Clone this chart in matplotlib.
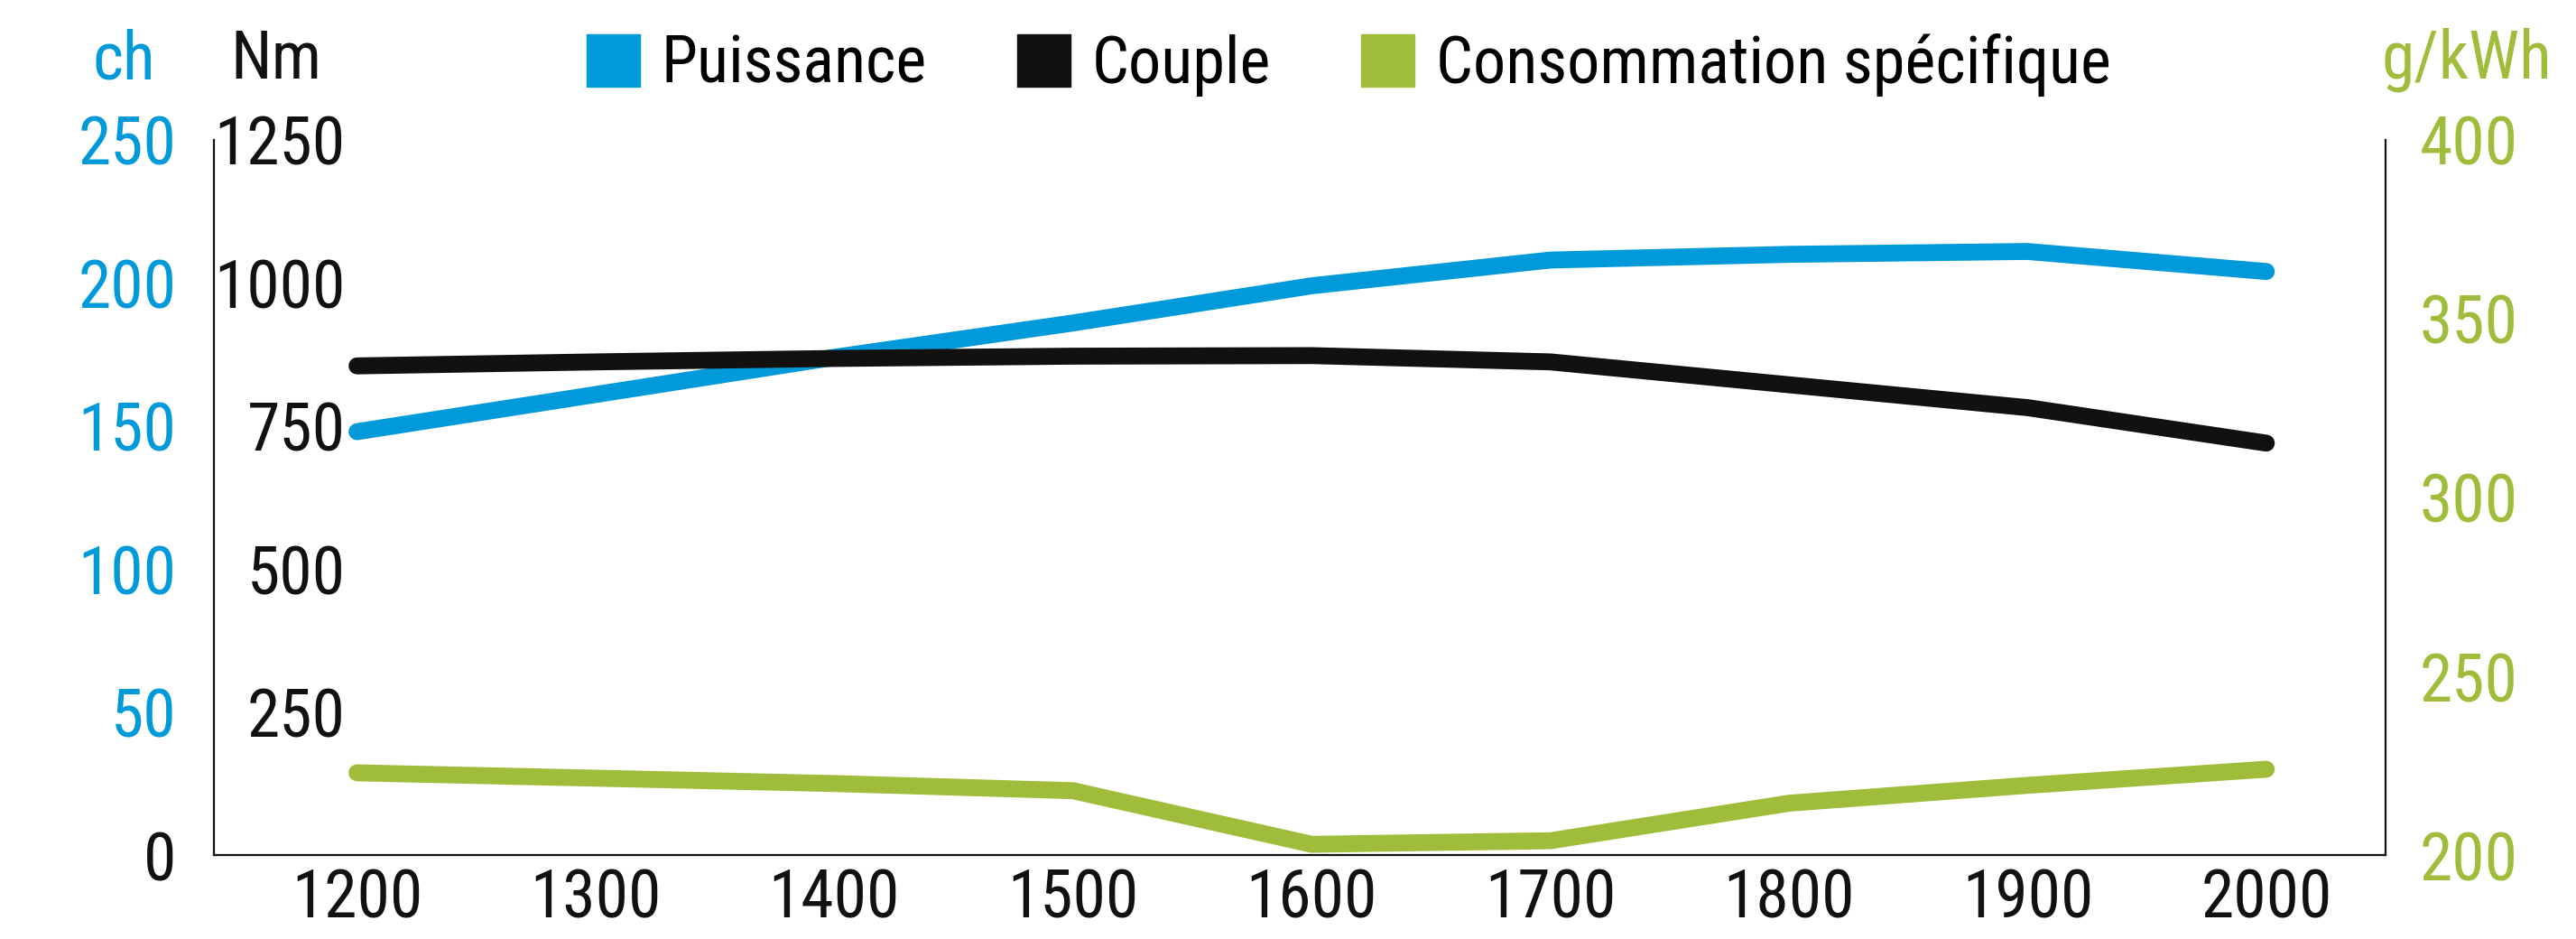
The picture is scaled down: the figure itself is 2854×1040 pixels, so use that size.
import matplotlib
matplotlib.use("Agg")
import matplotlib.pyplot as plt
from matplotlib import font_manager
from matplotlib.patches import Patch

# pick a narrow sans font (the original uses a condensed Helvetica look)
font_name = "Liberation Sans"
for cand in ["Liberation Sans Narrow", "Arial Narrow", "Roboto Condensed",
             "Archivo Narrow", "PT Sans Narrow", "Pragati Narrow"]:
    try:
        font_manager.findfont(font_manager.FontProperties(family=cand), fallback_to_default=False)
        font_name = cand
        break
    except Exception:
        pass
plt.rcParams["font.family"] = [font_name, "Liberation Sans", "DejaVu Sans"]

# --- data ---
rpm = [1200, 1300, 1400, 1500, 1600, 1700, 1800, 1900, 2000]
puissance = [148, 161, 174, 186, 199, 208, 210, 211, 204]          # ch
couple = [855, 862, 868, 872, 873, 862, 822, 782, 720]             # Nm
conso = [223, 221.5, 220, 218, 203, 204, 214.5, 219.5, 224]        # g/kWh

ch_ticks = [0, 50, 100, 150, 200, 250]
nm_ticks = [250, 500, 750, 1000, 1250]
gkwh_ticks = [200, 250, 300, 350, 400]

BLUE = "#009ADA"
BLACK = "#121110"
GREEN = "#9FBD3A"
FS = 53
LW = 13.5

fig = plt.figure(figsize=(28.54, 10.40), dpi=100)
ax = fig.add_axes([0.0830, 0.0894, 0.8431, 0.7616])   # ch (blue)
ax_nm = ax.twinx()                                    # Nm (black)
ax_g = ax.twinx()                                     # g/kWh (green)

ax.plot(rpm, puissance, color=BLUE, lw=LW, solid_capstyle="round", solid_joinstyle="miter")
ax_nm.plot(rpm, couple, color=BLACK, lw=LW, solid_capstyle="round", solid_joinstyle="miter")
ax_g.plot(rpm, conso, color=GREEN, lw=LW, solid_capstyle="round", solid_joinstyle="miter")

ax.set_xlim(1140, 2050)
ax.set_ylim(0, 250)
ax_nm.set_ylim(0, 1250)
ax_g.set_ylim(200, 400)

# spines
for a in (ax, ax_nm, ax_g):
    for s in a.spines.values():
        s.set_visible(False)
ax.spines["left"].set_visible(True)
ax.spines["bottom"].set_visible(True)
ax_g.spines["right"].set_visible(True)
for s in (ax.spines["left"], ax.spines["bottom"], ax_g.spines["right"]):
    s.set_linewidth(1.6)
    s.set_color(BLACK)

# x axis
ax.set_xticks(rpm)
ax.tick_params(axis="x", length=0, pad=10, labelsize=FS, labelcolor=BLACK)

# ch ticks, left, outside
ax.set_yticks(ch_ticks)
ax.tick_params(axis="y", length=0, pad=30, labelsize=FS, labelcolor=BLUE)
for lab in ax.get_yticklabels():
    if lab.get_text() == "0":
        lab.set_color(BLACK)

# Nm ticks, left, drawn inside the plot
ax_nm.yaxis.set_ticks_position("left")
ax_nm.set_yticks(nm_ticks)
ax_nm.tick_params(axis="y", length=0, pad=-105, labelsize=FS, labelcolor=BLACK)

# g/kWh ticks, right
ax_g.set_yticks(gkwh_ticks)
ax_g.tick_params(axis="y", length=0, pad=27, labelsize=FS, labelcolor=GREEN)

# units
fig.text(172 / 2854, 1 - 87 / 1040, "ch", color=BLUE, fontsize=FS, ha="right", va="baseline")
fig.text(255 / 2854, 1 - 87 / 1040, "Nm", color=BLACK, fontsize=FS, ha="left", va="baseline")
fig.text(2638 / 2854, 1 - 87 / 1040, "g/kWh", color=GREEN, fontsize=FS, ha="left", va="baseline")

# legend
handles = [Patch(color=BLUE, label="Puissance"),
           Patch(color=BLACK, label="Couple"),
           Patch(color=GREEN, label="Consommation spécifique")]
fig.legend(handles=handles, loc="center", bbox_to_anchor=(0.5235, 0.931), ncol=3,
           frameon=False, fontsize=52, handlelength=0.82, handleheight=0.87,
           handletextpad=0.33, columnspacing=1.38, borderaxespad=0, borderpad=0)

fig.savefig("out.png", dpi=100)
